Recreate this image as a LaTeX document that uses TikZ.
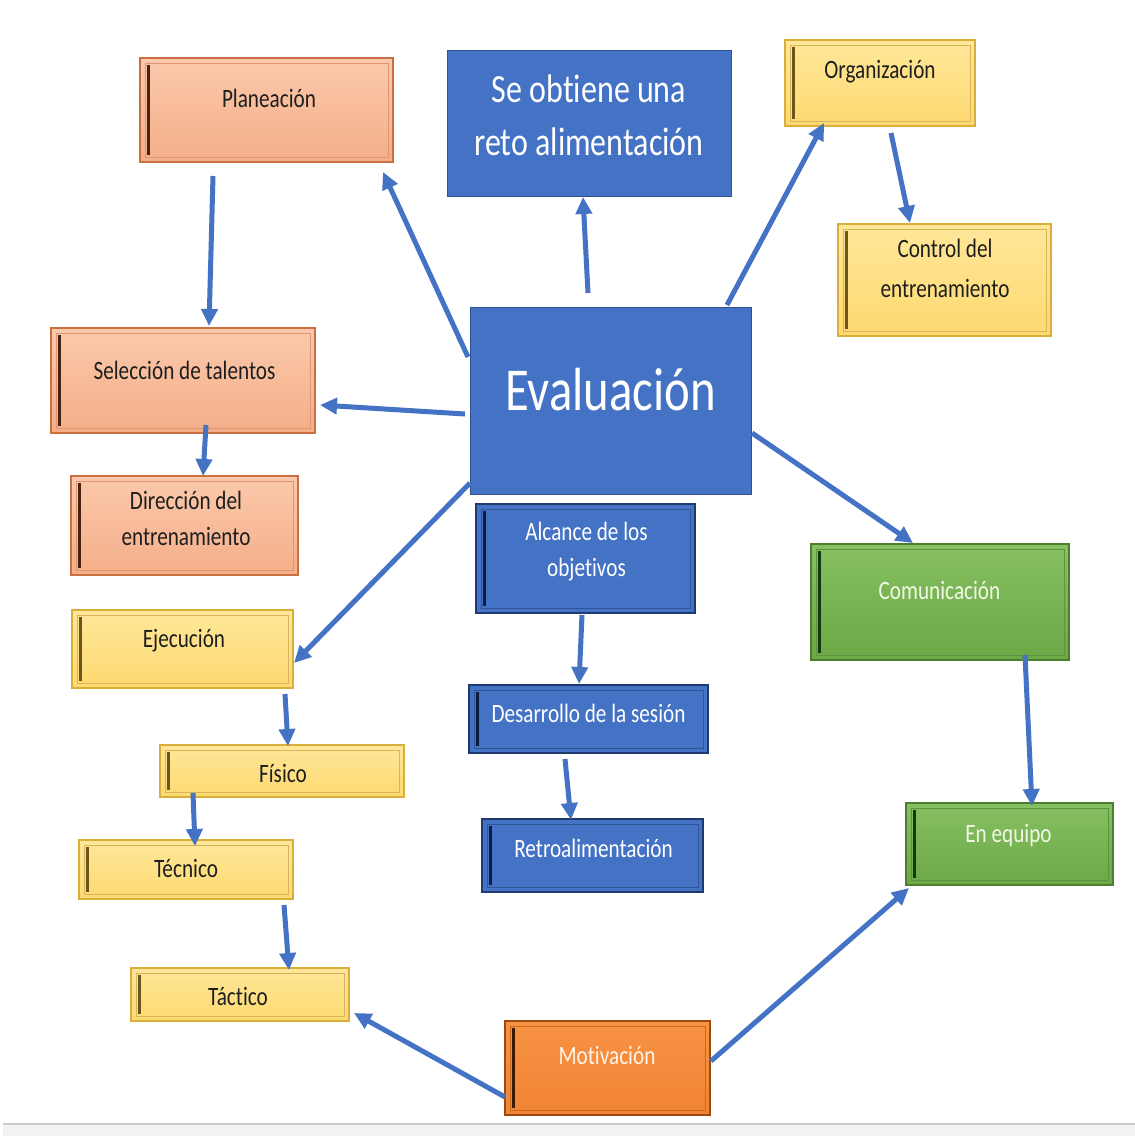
\documentclass[tikz,border=0pt]{standalone}
\usepackage{fontspec}
\setmainfont{Carlito}[FakeStretch=0.8, Ligatures=NoCommon]
\usetikzlibrary{arrows.meta,calc}
\definecolor{wblue}{HTML}{4472C4}
\definecolor{wbluebd}{HTML}{2F528F}
\definecolor{bluebd}{HTML}{1F3A70}
\definecolor{bluein}{HTML}{2F5597}
\definecolor{bluebar}{HTML}{0D1B3E}
\definecolor{saltop}{HTML}{FBC9AC}
\definecolor{salbot}{HTML}{F4AE88}
\definecolor{salbd}{HTML}{C8703F}
\definecolor{salin}{HTML}{DC9672}
\definecolor{salbar}{HTML}{4A2010}
\definecolor{yeltop}{HTML}{FFE79A}
\definecolor{yelbot}{HTML}{FDD970}
\definecolor{yelbd}{HTML}{D9AE3A}
\definecolor{yelin}{HTML}{D8B55A}
\definecolor{yelbar}{HTML}{6B5518}
\definecolor{grntop}{HTML}{86C062}
\definecolor{grnbot}{HTML}{6CA845}
\definecolor{grnbd}{HTML}{4E7F30}
\definecolor{grnin}{HTML}{5A9440}
\definecolor{grnbar}{HTML}{123A0A}
\definecolor{orgtop}{HTML}{F89244}
\definecolor{orgbot}{HTML}{F08434}
\definecolor{orgbd}{HTML}{9C4A10}
\definecolor{orgin}{HTML}{C86A20}
\definecolor{orgbar}{HTML}{3A1A05}
\definecolor{txtdark}{HTML}{1E1E1E}
\definecolor{txtgreen}{HTML}{F2F8E6}
\newcommand\boxdeco[3]{%
  \draw[#2, line width=1pt] ($(#1.north west)+(6,6)$) rectangle ($(#1.south east)+(-6,-6)$);
  \draw[#3, line width=3pt] ($(#1.north west)+(9,8)$) -- ($(#1.south west)+(9,-8)$);
}
\tikzset{
  box/.style={rectangle, inner sep=0pt, line width=2pt},
  bigblue/.style={box, fill=wblue, draw=wbluebd, line width=1pt},
  salbox/.style={box, draw=salbd, top color=saltop, bottom color=salbot},
  yelbox/.style={box, draw=yelbd, top color=yeltop, bottom color=yelbot},
  bluebox/.style={box, draw=bluebd, fill=wblue},
  grnbox/.style={box, draw=grnbd, top color=grntop, bottom color=grnbot},
  orgbox/.style={box, draw=orgbd, top color=orgtop, bottom color=orgbot},
  small/.style={font=\fontsize{26.5}{36}\selectfont, align=center, inner sep=0pt},
  dtxt/.style={small, text=txtdark},
  wtxt/.style={small, text=white},
  gtxt/.style={small, text=txtgreen},
  conn/.style={draw=wblue, line width=5pt, -{Triangle[length=17pt,width=16pt]}},
}
\begin{document}
\begin{tikzpicture}[x=1pt,y=-1pt]
\useasboundingbox (0,0) rectangle (1135,1136);
\fill[white] (0,0) rectangle (1135,1136);
\fill[gray!10] (3,1124) rectangle (1135,1136);
\draw[gray!40, line width=1.2pt] (3,1124) -- (1135,1124);

% big blue boxes
\node[bigblue, minimum width=281pt, minimum height=187pt] (eval) at (610.5,400.5) {};
\node[font=\fontsize{61}{61}\selectfont, text=white, anchor=base, inner sep=0pt] (evalt) at (610.5,410) {Evaluación};
\node[bigblue, minimum width=284pt, minimum height=146pt] (obt) at (589,123) {};
\node[font=\fontsize{40}{53}\selectfont, text=white, align=center, inner sep=0pt] (obtt) at (589,115.5) {Se obtiene una\\reto alimentación};

% salmon boxes
\node[salbox, minimum width=253pt, minimum height=104pt] (plan) at (266.5,110) {};
\boxdeco{plan}{salin}{salbar}
\node[dtxt, anchor=base] (plant) at (269,107) {Planeación};
\node[salbox, minimum width=264pt, minimum height=105pt] (sel) at (183,380.5) {};
\boxdeco{sel}{salin}{salbar}
\node[dtxt, anchor=base] (selt) at (184.5,379) {Selección de talentos};
\node[salbox, minimum width=227pt, minimum height=99pt] (dir) at (184.5,525.5) {};
\boxdeco{dir}{salin}{salbar}
\node[dtxt] (dirt) at (186,518.5) {Dirección del\\entrenamiento};

% yellow boxes
\node[yelbox, minimum width=190pt, minimum height=86pt] (org) at (880,83) {};
\boxdeco{org}{yelin}{yelbar}
\node[dtxt, anchor=base] (orgt) at (880,78) {Organización};
\node[yelbox, minimum width=213pt, minimum height=112pt] (ctrl) at (944.5,280) {};
\boxdeco{ctrl}{yelin}{yelbar}
\node[dtxt, font=\fontsize{26.5}{40}\selectfont] (ctrlt) at (945,268) {Control del\\entrenamiento};
\node[yelbox, minimum width=221pt, minimum height=78pt] (eje) at (182.5,649) {};
\boxdeco{eje}{yelin}{yelbar}
\node[dtxt, anchor=base] (ejet) at (184,647) {Ejecución};
\node[yelbox, minimum width=244pt, minimum height=52pt] (fis) at (282,771) {};
\boxdeco{fis}{yelin}{yelbar}
\node[dtxt, anchor=base] (fist) at (283,782) {Físico};
\node[yelbox, minimum width=214pt, minimum height=59pt] (tec) at (186,869.5) {};
\boxdeco{tec}{yelin}{yelbar}
\node[dtxt, anchor=base] (tect) at (186,877) {Técnico};
\node[yelbox, minimum width=218pt, minimum height=53pt] (tac) at (240,994.5) {};
\boxdeco{tac}{yelin}{yelbar}
\node[dtxt, anchor=base] (tact) at (238,1005) {Táctico};

% blue small boxes
\node[bluebox, minimum width=219pt, minimum height=109pt] (alc) at (585.5,558.5) {};
\boxdeco{alc}{bluein}{bluebar}
\node[wtxt] (alct) at (586.5,552) {Alcance de los\\objetivos};
\node[bluebox, minimum width=239pt, minimum height=68pt] (des) at (588.5,719) {};
\boxdeco{des}{bluein}{bluebar}
\node[wtxt, anchor=base] (dest) at (588.5,722) {Desarrollo de la sesión};
\node[bluebox, minimum width=221pt, minimum height=73pt] (ret) at (592.5,855.5) {};
\boxdeco{ret}{bluein}{bluebar}
\node[wtxt, anchor=base] (rett) at (593.5,857) {Retroalimentación};

% green boxes
\node[grnbox, minimum width=258pt, minimum height=116pt] (com) at (940,602) {};
\boxdeco{com}{grnin}{grnbar}
\node[gtxt, anchor=base] (comt) at (939.5,599) {Comunicación};
\node[grnbox, minimum width=207pt, minimum height=82pt] (equ) at (1009.5,844) {};
\boxdeco{equ}{grnin}{grnbar}
\node[gtxt, anchor=base] (equt) at (1008.5,842) {En equipo};

% orange box
\node[orgbox, minimum width=205pt, minimum height=94pt] (mot) at (607.5,1068) {};
\boxdeco{mot}{orgin}{orgbar}
\node[small, text=orange!8, anchor=base] (mott) at (607,1064) {Motivación};

% connectors
\draw[conn] ($(eval)+(-142.5,-43.5)$) -- ($(plan)+(116.5,62)$);
\draw[conn] ($(eval)+(-145.5,13.5)$) -- ($(sel)+(137,24.5)$);
\draw[conn] ($(eval)+(-22.5,-107.5)$) -- ($(obt)+(-6,74)$);
\draw[conn] ($(eval)+(116.5,-95.5)$) -- ($(org)+(-56,40)$);
\draw[conn] ($(org)+(11,50)$) -- ($(ctrl)+(-34.5,-57)$);
\draw[conn] ($(eval)+(141.5,32.5)$) -- ($(com)+(-27,-59)$);
\draw[conn] ($(eval)+(-140.5,82.5)$) -- ($(eje)+(111.5,14)$);
\draw[conn] ($(plan)+(-53.5,66)$) -- ($(sel)+(26,-54.5)$);
\draw[conn] ($(sel)+(23,44.5)$) -- ($(dir)+(18.5,-49.5)$);
\draw[conn] ($(alc)+(-3.5,56.5)$) -- ($(des)+(-9.5,-35)$);
\draw[conn] ($(des)+(-23.5,40)$) -- ($(ret)+(-21.5,-35.5)$);
\draw[conn] ($(com)+(85,53)$) -- ($(equ)+(22.5,-38)$);
\draw[conn] ($(eje)+(102.5,45)$) -- ($(fis)+(6,-25)$);
\draw[conn] ($(fis)+(-89,22)$) -- ($(tec)+(9,-23.5)$);
\draw[conn] ($(tec)+(98,35.5)$) -- ($(tac)+(49,-24.5)$);
\draw[conn] ($(mot)+(-102.5,29)$) -- ($(tac)+(114,18.5)$);
\draw[conn] ($(mot)+(103.5,-7)$) -- ($(equ)+(-100.5,44)$);
\end{tikzpicture}
\end{document}
